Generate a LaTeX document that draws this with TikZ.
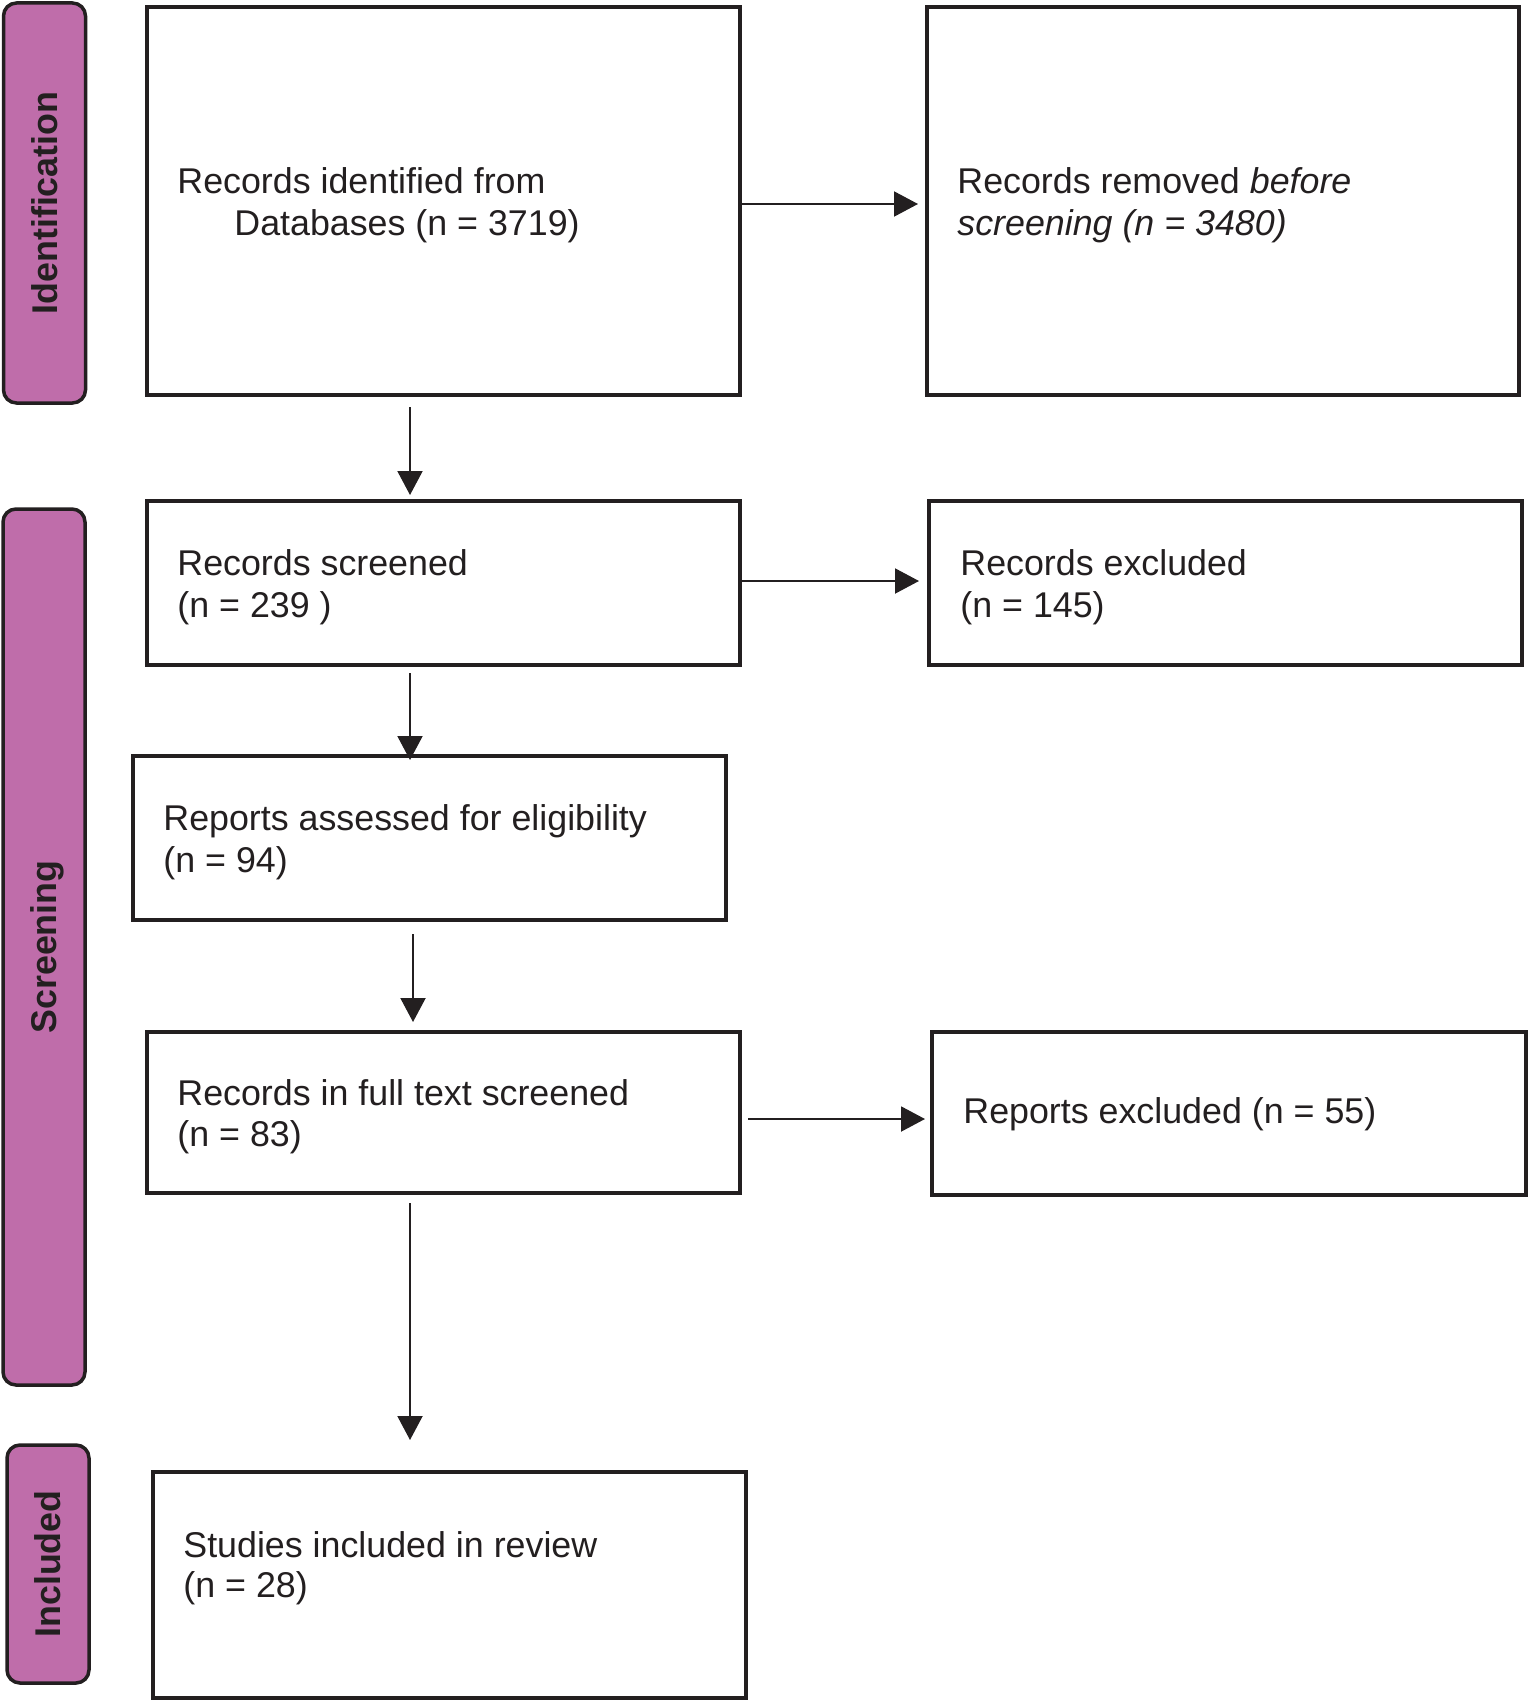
\documentclass[tikz,border=0pt]{standalone}
\usepackage{fontspec}
\setmainfont{Liberation Sans}
\usetikzlibrary{arrows.meta}
\definecolor{ink}{HTML}{231F20}
\definecolor{phase}{HTML}{BF6DAA}
\begin{document}
\begin{tikzpicture}[x=0.5pt,y=-0.5pt,
  box/.style={draw=ink,line width=2pt,inner sep=0pt,outer sep=0pt,fill=white},
  phasebox/.style={draw=ink,fill=phase,line width=1.75pt,rounded corners=6.5pt,inner sep=0pt,outer sep=0pt},
  phasetext/.style={rotate=90,font=\fontsize{17.9}{21}\selectfont\bfseries,text=ink,text height=12.8pt,text depth=0pt,inner sep=0pt},
  txt/.style={anchor=base west,inner sep=0pt,font=\fontsize{17.9}{21}\selectfont,text=ink},
  arr/.style={draw=ink,line width=1pt,-{Triangle[length=12pt,width=12.5pt]}}]
\useasboundingbox (0,0) rectangle (1528,1702);

% phase labels
\node[phasebox,minimum width=41pt,minimum height=200pt] (L1) at (44.5,203) {};
\node[phasetext] (L1t) at (L1.center) {Identification};
\node[phasebox,minimum width=41pt,minimum height=438pt] (L2) at (44,947) {};
\node[phasetext] (L2t) at (L2.center) {Screening};
\node[phasebox,minimum width=41pt,minimum height=119pt] (L3) at (48,1564) {};
\node[phasetext] (L3t) at (L3.center) {Included};

% boxes
\node[box,minimum width=296.5pt,minimum height=194pt] (b1) at (443.5,201) {};
\node[box,minimum width=296pt,minimum height=194pt] (b2) at (1223,201) {};
\node[box,minimum width=296.5pt,minimum height=82pt] (b3) at (443.5,583) {};
\node[box,minimum width=296.5pt,minimum height=82pt] (b4) at (1225.5,583) {};
\node[box,minimum width=296.5pt,minimum height=82pt] (b5) at (429.5,838) {};
\node[box,minimum width=296.5pt,minimum height=80.5pt] (b6) at (443.5,1112.5) {};
\node[box,minimum width=297pt,minimum height=81.5pt] (b7) at (1229,1113.5) {};
\node[box,minimum width=296.5pt,minimum height=113pt] (b8) at (449.5,1585) {};

% texts
\node[txt] (t1a) at (177,193) {Records identified from};
\node[txt] (t1b) at (234,235) {Databases (n = 3719)};
\node[txt] (t2a) at (957,193) {Records removed \textit{before}};
\node[txt] (t2b) at (957,235) {\textit{screening (n = 3480)}};
\node[txt] (t3a) at (177,575) {Records screened};
\node[txt] (t3b) at (177,617) {(n = 239 )};
\node[txt] (t4a) at (960,575) {Records excluded};
\node[txt] (t4b) at (960,617) {(n = 145)};
\node[txt] (t5a) at (163,830) {Reports assessed for eligibility};
\node[txt] (t5b) at (163,872) {(n = 94)};
\node[txt] (t6a) at (177,1105) {Records in full text screened};
\node[txt] (t6b) at (177,1146) {(n = 83)};
\node[txt] (t7) at (963,1123) {Reports excluded (n = 55)};
\node[txt] (t8a) at (183,1557) {Studies included in review};
\node[txt] (t8b) at (183,1597) {(n = 28)};

% helper coordinates for connector lines
\coordinate (xa) at (410,0);
\coordinate (xb) at (413,0);
\coordinate (ya) at (0,204);
\coordinate (yb) at (0,581);
\coordinate (yc) at (0,1119);

% connectors
\draw[arr,shorten <=0.5pt,shorten >=4.5pt] (b1.east |- ya) -- (b2.west |- ya);
\draw[arr,shorten <=0.5pt,shorten >=5pt] (b3.east |- yb) -- (b4.west |- yb);
\draw[arr,shorten <=4pt,shorten >=3.5pt] (b6.east |- yc) -- (b7.west |- yc);
\draw[arr,shorten <=6pt,shorten >=3pt] (b1.south -| xa) -- (b3.north -| xa);
\draw[arr,shorten <=4pt,shorten >=-2pt] (b3.south -| xa) -- (b5.north -| xa);
\draw[arr,shorten <=7pt,shorten >=5pt] (b5.south -| xb) -- (b6.north -| xb);
\draw[arr,shorten <=5pt,shorten >=16pt] (b6.south -| xa) -- (b8.north -| xa);
\end{tikzpicture}
\end{document}
